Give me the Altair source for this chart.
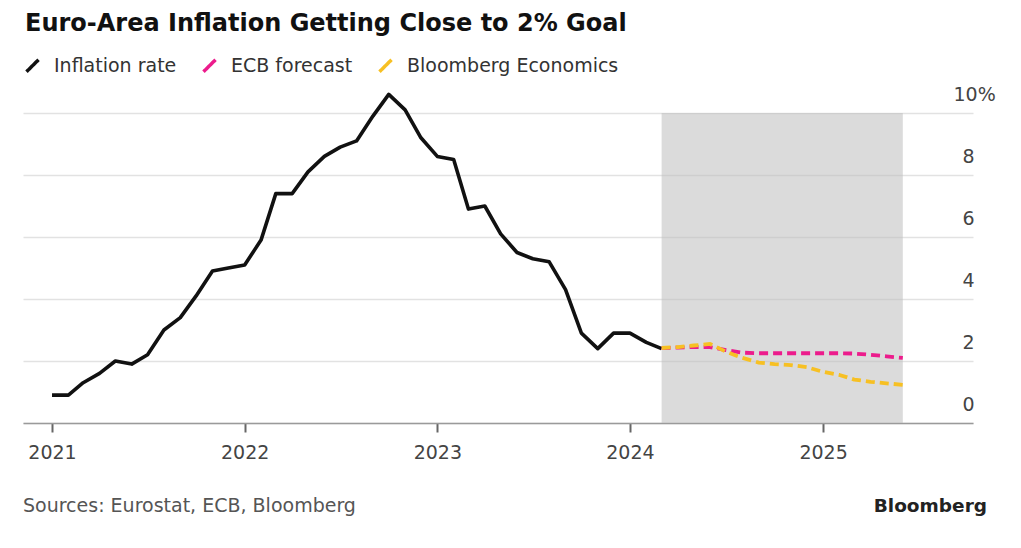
import altair as alt
import pandas as pd

# ---------------- data ----------------
title_text = "Euro-Area Inflation Getting Close to 2% Goal"
source_text = "Sources: Eurostat, ECB, Bloomberg"
brand_text = "Bloomberg"

series_names = ["Inflation rate", "ECB forecast", "Bloomberg Economics"]
series_colors = ["#111111", "#ec1c8c", "#f7c023"]

# monthly euro-area inflation, Jan 2021 - Mar 2024 (%)
inflation_start = "2021-01-01"
inflation = [0.9, 0.9, 1.3, 1.6, 2.0, 1.9, 2.2, 3.0, 3.4, 4.1, 4.9, 5.0,
             5.1, 5.9, 7.4, 7.4, 8.1, 8.6, 8.9, 9.1, 9.9, 10.6, 10.1, 9.2,
             8.6, 8.5, 6.9, 7.0, 6.1, 5.5, 5.3, 5.2, 4.3, 2.9, 2.4, 2.9,
             2.9, 2.6, 2.4]

# forecasts, monthly Mar 2024 - Jun 2025 (%)
forecast_start = "2024-03-01"
ecb_forecast = [2.42, 2.43, 2.45, 2.45, 2.35, 2.27, 2.25, 2.25,
                2.25, 2.25, 2.25, 2.25, 2.24, 2.2, 2.15, 2.1]
bbg_forecast = [2.42, 2.45, 2.5, 2.55, 2.3, 2.1, 1.95, 1.9,
                1.87, 1.8, 1.65, 1.55, 1.4, 1.33, 1.28, 1.23]

shade_start = "2024-03-01T00:00:00"
shade_end = "2025-06-01T00:00:00"
shade_low, shade_high = 0, 10

y_ticks = [0, 2, 4, 6, 8, 10]
x_years = [2021, 2022, 2023, 2024, 2025]

# ---------------- tables ----------------
rows = []
for d, v in zip(pd.date_range(inflation_start, periods=len(inflation), freq="MS"), inflation):
    rows.append({"series": series_names[0], "date": d, "value": v})
actual_df = pd.DataFrame(rows)

rows = []
for d, v in zip(pd.date_range(forecast_start, periods=len(ecb_forecast), freq="MS"), ecb_forecast):
    rows.append({"series": series_names[1], "date": d, "value": v})
for d, v in zip(pd.date_range(forecast_start, periods=len(bbg_forecast), freq="MS"), bbg_forecast):
    rows.append({"series": series_names[2], "date": d, "value": v})
forecast_df = pd.DataFrame(rows)

shade_df = pd.DataFrame({"start": [shade_start], "end": [shade_end],
                         "lo": [shade_low], "hi": [shade_high]})

FONT = "DejaVu Sans"

x_scale = alt.Scale(domain=[alt.DateTime(year=2020, month=11, date=7),
                            alt.DateTime(year=2025, month=10, date=12)])
y_scale = alt.Scale(domain=[0, 11], nice=False)
color_scale = alt.Scale(domain=series_names, range=series_colors)

x_axis = alt.Axis(values=[alt.DateTime(year=y, month=1, date=1) for y in x_years],
                  format="%Y", title=None, grid=False,
                  domainColor="#9a9a9a", domainWidth=1.5,
                  tickColor="#666666", tickWidth=2, tickSize=9,
                  labelPadding=11, labelFont=FONT, labelFontSize=19,
                  labelColor="#444444", labelFlush=False)

y_axis = alt.Axis(orient="right", values=y_ticks, title=None, domain=False,
                  ticks=False, grid=True, gridColor="#e2e2e2", gridWidth=1.5,
                  labelAlign="left", labelBaseline="alphabetic", labelOffset=-13,
                  labelPadding={"condition": {"test": "datum.value == 10", "value": -20},
                                "value": -11},
                  labelExpr="datum.value == 10 ? '10%' : datum.label",
                  labelFont=FONT, labelFontSize=19, labelColor="#444444")

legend = alt.Legend(title=None, orient="none", legendX=0, legendY=-26,
                    direction="horizontal", padding=0,
                    symbolType="M-1,1L1,-1", symbolDash=[1, 0],
                    symbolSize=144, symbolStrokeWidth=3.5,
                    labelFont=FONT, labelFontSize=19,
                    labelColor="#333333", labelOffset=12,
                    labelLimit=400, columnPadding=19)

shade = alt.Chart(shade_df).mark_rect(color="#bdbdbd", opacity=0.55).encode(
    x=alt.X("start:T", scale=x_scale, axis=x_axis),
    x2="end:T",
    y=alt.Y("lo:Q", scale=y_scale, axis=y_axis),
    y2="hi:Q",
)

actual_line = alt.Chart(actual_df).mark_line(strokeWidth=3.6, strokeJoin="round").encode(
    x=alt.X("date:T", scale=x_scale, axis=x_axis),
    y=alt.Y("value:Q", scale=y_scale, axis=y_axis),
    color=alt.Color("series:N", scale=color_scale, legend=legend),
    order=alt.Order("date:T"),
)

forecast_lines = alt.Chart(forecast_df).mark_line(
    strokeWidth=3.8, strokeJoin="round", strokeDash=[9, 5]
).encode(
    x=alt.X("date:T", scale=x_scale, axis=x_axis),
    y=alt.Y("value:Q", scale=y_scale, axis=y_axis),
    color=alt.Color("series:N", scale=color_scale, legend=legend),
    order=alt.Order("date:T"),
)

source = alt.Chart(pd.DataFrame({"t": [source_text]})).mark_text(
    align="left", baseline="alphabetic", font=FONT, fontSize=19, color="#555555"
).encode(x=alt.value(0), y=alt.value(430), text="t:N")

brand = alt.Chart(pd.DataFrame({"t": [brand_text]})).mark_text(
    align="right", baseline="alphabetic", font=FONT, fontSize=18.5,
    fontWeight="bold", color="#222222"
).encode(x=alt.value(964), y=alt.value(430), text="t:N")

chart = alt.layer(shade, actual_line, forecast_lines, source, brand).properties(
    width=950, height=341, autosize="none",
    padding={"left": 15, "top": 74, "right": 40, "bottom": 110},
    title=alt.TitleParams(text=title_text, anchor="start", frame="group",
                          font=FONT, fontSize=24, fontWeight="bold",
                          color="#111111", dx=2, dy=-16),
).configure(font=FONT).configure_view(stroke=None)

chart.save("out.html", embed_options={"renderer": "svg", "actions": False})
